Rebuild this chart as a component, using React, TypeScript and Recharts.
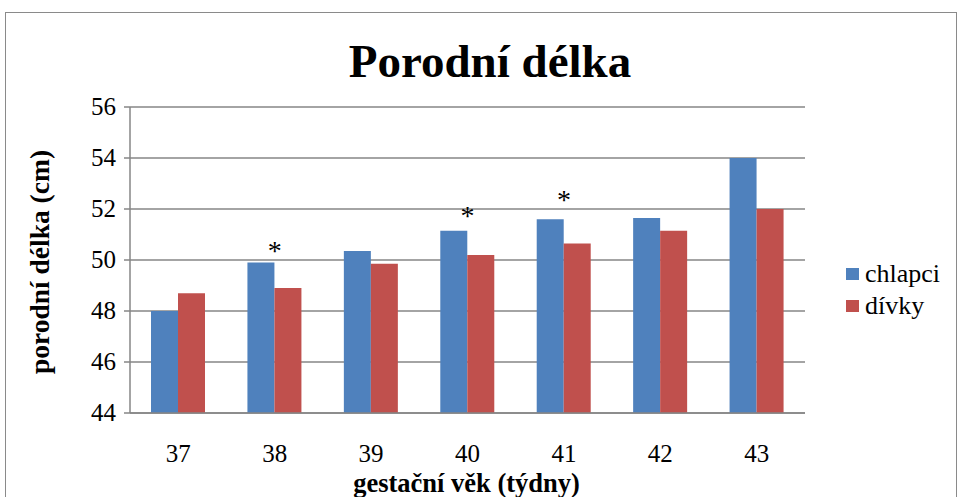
import React from "react";
import {
  ComposedChart,
  Bar,
  Scatter,
  XAxis,
  YAxis,
  CartesianGrid,
} from "recharts";

const categories = ["37", "38", "39", "40", "41", "42", "43"];
const chlapci = [48.0, 49.9, 50.35, 51.15, 51.6, 51.65, 54.0];
const divky = [48.7, 48.9, 49.85, 50.2, 50.65, 51.15, 52.0];
const significanceY: (number | null)[] = [null, 50.5, null, 51.9, 52.5, null, null];
const yTicks = [44, 46, 48, 50, 52, 54, 56];
const seriesNames = ["chlapci", "dívky"];

const data = categories.map((c, i) => ({
  week: c,
  chlapci: chlapci[i],
  divky: divky[i],
  sig: significanceY[i],
}));

const FONT = "'Liberation Serif', 'Times New Roman', Tinos, 'DejaVu Serif', serif";
const BLUE = "#4F81BD";
const RED = "#C0504D";
const GRID = "#868686";

const Asterisk = (props: any) => {
  const { cx, cy, payload } = props;
  if (payload == null || payload.sig == null) return <g />;
  return (
    <text x={cx} y={cy + 13} textAnchor="middle" style={{ fontFamily: FONT }} fontSize={28} fill="#000">
      *
    </text>
  );
};

const XTick = (props: any) => {
  const { x, y, payload } = props;
  return (
    <text
      x={x}
      y={y + 41}
      textAnchor="middle"
      style={{ fontFamily: FONT, fontWeight: 400 }}
      fontSize={25}
      fill="#000"
    >
      {payload.value}
    </text>
  );
};

const YTick = (props: any) => {
  const { x, y, payload } = props;
  return (
    <text
      x={x - 6}
      y={y + 8}
      textAnchor="end"
      style={{ fontFamily: FONT, fontWeight: 400 }}
      fontSize={25}
      fill="#000"
    >
      {payload.value}
    </text>
  );
};

const XLabel = (props: any) => {
  const vb = props.viewBox || {};
  return (
    <text
      x={vb.x + vb.width / 2 - 1}
      y={vb.y + 79}
      textAnchor="middle"
      style={{ fontFamily: FONT, fontWeight: 700 }}
      fontSize={26.5}
      fill="#000"
    >
      gestační věk (týdny)
    </text>
  );
};

const YLabel = (props: any) => {
  const vb = props.viewBox || {};
  const cx = vb.x - 21;
  const cy = vb.y + vb.height / 2 + 2;
  return (
    <text
      x={cx}
      y={cy}
      transform={`rotate(-90, ${cx}, ${cy})`}
      textAnchor="middle"
      style={{ fontFamily: FONT, fontWeight: 700 }}
      fontSize={27.5}
      fill="#000"
    >
      porodní délka (cm)
    </text>
  );
};

export default function App() {
  return (
    <div
      style={{
        position: "absolute",
        left: 0,
        top: 0,
        width: 959,
        height: 497,
        overflow: "hidden",
        background: "#fff",
      }}
    >
      <div
        style={{
          position: "absolute",
          left: 5,
          top: 12,
          width: 952,
          height: 500,
          border: "1px solid #8a8a8a",
          boxSizing: "border-box",
        }}
      />
      <div
        style={{
          position: "absolute",
          left: 0,
          top: 36,
          width: 980,
          textAlign: "center",
          fontFamily: FONT,
          fontWeight: "bold",
          fontSize: 47,
          color: "#000",
          lineHeight: "50px",
        }}
      >
        Porodní délka
      </div>
      <div
        style={{
          position: "absolute",
          left: 846,
          top: 258,
          fontFamily: FONT,
          fontWeight: 400,
          fontSize: 26,
          color: "#000",
          lineHeight: "32px",
        }}
      >
        {seriesNames.map((name, i) => (
          <div key={name} style={{ display: "flex", alignItems: "center" }}>
            <span
              style={{
                display: "inline-block",
                width: 13,
                height: 12,
                background: i === 0 ? BLUE : RED,
                marginRight: 6,
              }}
            />
            <span>{name}</span>
          </div>
        ))}
      </div>
      <div style={{ position: "absolute", left: 0, top: 0 }}>
        <ComposedChart
          width={959}
          height={497}
          data={data}
          margin={{ top: 107, right: 154, bottom: 54, left: 70 }}
          barGap={0}
        >
          <CartesianGrid vertical={false} stroke={GRID} strokeWidth={1.5} />
          <XAxis
            dataKey="week"
            axisLine={{ stroke: GRID, strokeWidth: 1.5 }}
            tickLine={false}
            tick={<XTick />}
            height={30}
            interval={0}
            label={<XLabel />}
          />
          <YAxis
            domain={[44, 56]}
            ticks={yTicks}
            interval={0}
            width={60}
            axisLine={{ stroke: GRID, strokeWidth: 1.5 }}
            tickLine={{ stroke: GRID, strokeWidth: 1.5 }}
            tickSize={6}
            tick={<YTick />}
            label={<YLabel />}
          />
          <Bar dataKey="chlapci" name="chlapci" fill={BLUE} barSize={27} isAnimationActive={false} />
          <Bar dataKey="divky" name="dívky" fill={RED} barSize={27} isAnimationActive={false} />
          <Scatter dataKey="sig" shape={<Asterisk />} isAnimationActive={false} legendType="none" />
        </ComposedChart>
      </div>
    </div>
  );
}
